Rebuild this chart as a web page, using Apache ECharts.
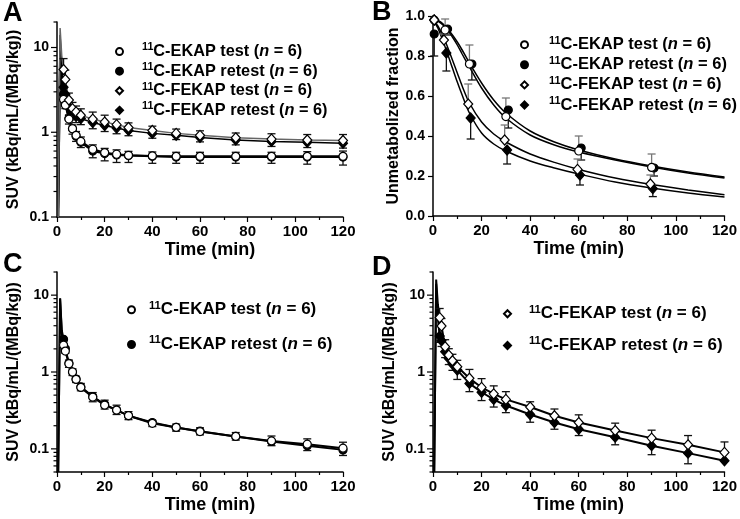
<!DOCTYPE html>
<html>
<head>
<meta charset="utf-8">
<script src="https://cdn.jsdelivr.net/npm/echarts@6/dist/echarts.min.js"></script>
<style>
  html, body { margin: 0; padding: 0; background: #fff; }
  #main { width: 740px; height: 519px; }
</style>
</head>
<body>
<div id="main"></div>
<script>
// ---- data ----
// frame mid-times (min) for the SUV panels
const suvTime = [2.75, 3.5, 5, 6.5, 8, 10, 15, 20, 25, 30, 40, 50, 60, 75, 90, 105, 120];
// early input peak of the fitted curves (min)
const peakTime = [0.5, 1.3, 2.0];

// panel A
const aEkapTest = [2.44, 2.09, 1.43, 1.1, 0.92, 0.78, 0.63, 0.575, 0.55, 0.535, 0.525, 0.52, 0.52, 0.52, 0.52, 0.52, 0.52];
const aEkapTestSd = [0.3, 0.25, 0.15, 0.12, 0.1, 0.1, 0.08, 0.07, 0.07, 0.06, 0.06, 0.06, 0.06, 0.06, 0.06, 0.07, 0.08];
const aEkapRetest = [2.8, 2.2, 1.45, 1.1, 0.9, 0.76, 0.6, 0.56, 0.54, 0.53, 0.52, 0.51, 0.51, 0.51, 0.51, 0.51, 0.51];
const aEkapRetestSd = [0.4, 0.3, 0.2, 0.15, 0.12, 0.1, 0.1, 0.1, 0.1, 0.09, 0.09, 0.08, 0.08, 0.08, 0.08, 0.09, 0.1];
const aFekapTest = [5.5, 4.2, 2.4, 1.9, 1.74, 1.59, 1.43, 1.32, 1.23, 1.14, 1.05, 0.97, 0.92, 0.86, 0.83, 0.81, 0.8];
const aFekapTestSd = [1.9, 1.2, 0.5, 0.35, 0.3, 0.3, 0.3, 0.27, 0.2, 0.15, 0.13, 0.12, 0.12, 0.12, 0.13, 0.13, 0.14];
const aFekapRetest = [3.4, 2.8, 2.0, 1.7, 1.55, 1.45, 1.3, 1.2, 1.12, 1.05, 0.97, 0.92, 0.87, 0.81, 0.78, 0.76, 0.74];
const aFekapRetestSd = [0.8, 0.6, 0.4, 0.3, 0.25, 0.22, 0.2, 0.18, 0.16, 0.14, 0.12, 0.1, 0.1, 0.1, 0.1, 0.1, 0.09];
const aEkapTestPeak = [0.1, 9, 3.5];
const aEkapRetestPeak = [0.1, 10, 4];
const aFekapTestPeak = [0.1, 17, 8];
const aFekapRetestPeak = [0.1, 14, 5.5];

// panel B (unmetabolized fraction)
const bEkapTestTime = [0.5, 5, 15, 30, 60, 90];
const bEkapTest = [0.98, 0.93, 0.76, 0.497, 0.325, 0.243];
const bEkapTestSd = [0, 0.055, 0.095, 0.093, 0.075, 0.067];
const bEkapRetestTime = [0.5, 6, 16, 31, 61, 91];
const bEkapRetest = [0.91, 0.935, 0.76, 0.53, 0.34, 0.24];
const bEkapRetestSd = [0.11, 0.03, 0.08, 0.09, 0.06, 0.04];
const bFekapTestTime = [0.5, 4.5, 14.5, 29.5, 59.5, 89.5];
const bFekapTest = [0.98, 0.88, 0.56, 0.38, 0.233, 0.16];
const bFekapTestSd = [0, 0.03, 0.1, 0.075, 0.052, 0.045];
const bFekapRetestTime = [0.5, 5.5, 15.5, 30.5, 60.5, 90.5];
const bFekapRetest = [0.98, 0.815, 0.49, 0.33, 0.205, 0.137];
const bFekapRetestSd = [0, 0.09, 0.105, 0.07, 0.05, 0.04];
// fitted curves of panel B
const bCurveTime = [0, 2, 5, 8, 10, 12, 15, 20, 25, 30, 40, 50, 60, 75, 90, 105, 120];
const bEkapTestCurve = [0.98, 0.975, 0.945, 0.895, 0.855, 0.81, 0.745, 0.64, 0.555, 0.49, 0.405, 0.355, 0.32, 0.28, 0.245, 0.215, 0.19];
const bEkapRetestCurve = [0.98, 0.978, 0.95, 0.905, 0.87, 0.83, 0.765, 0.665, 0.58, 0.515, 0.425, 0.37, 0.33, 0.285, 0.25, 0.22, 0.195];
const bFekapTestCurve = [0.98, 0.95, 0.875, 0.78, 0.715, 0.65, 0.565, 0.47, 0.41, 0.37, 0.31, 0.268, 0.233, 0.19, 0.157, 0.13, 0.106];
const bFekapRetestCurve = [0.98, 0.94, 0.845, 0.74, 0.67, 0.605, 0.515, 0.415, 0.36, 0.325, 0.275, 0.24, 0.21, 0.17, 0.14, 0.115, 0.095];

// panel C
const cEkapTest = [2.24, 1.87, 1.28, 1.0, 0.8, 0.63, 0.47, 0.37, 0.32, 0.27, 0.215, 0.19, 0.168, 0.145, 0.127, 0.115, 0.102];
const cEkapTestSd = [0.3, 0.25, 0.15, 0.1, 0.08, 0.08, 0.07, 0.06, 0.05, 0.035, 0.02, 0.02, 0.02, 0.018, 0.02, 0.02, 0.02];
const cEkapRetest = [2.66, 2.0, 1.3, 1.0, 0.81, 0.64, 0.48, 0.38, 0.32, 0.27, 0.22, 0.19, 0.17, 0.145, 0.125, 0.11, 0.097];
const cEkapRetestSd = [0.3, 0.25, 0.15, 0.1, 0.08, 0.07, 0.07, 0.05, 0.04, 0.03, 0.025, 0.02, 0.018, 0.015, 0.015, 0.015, 0.015];
const cEkapTestPeak = [0.05, 9, 3.2];
const cEkapRetestPeak = [0.05, 9.1, 3.5];

// panel D
const dFekapTest = [5.1, 3.96, 2.13, 1.66, 1.4, 1.17, 0.83, 0.63, 0.52, 0.44, 0.35, 0.27, 0.22, 0.173, 0.138, 0.113, 0.09];
const dFekapTestSd = [1.6, 1.0, 0.5, 0.35, 0.3, 0.25, 0.25, 0.19, 0.14, 0.115, 0.06, 0.06, 0.057, 0.043, 0.037, 0.036, 0.033];
const dFekapRetest = [2.93, 2.55, 1.84, 1.5, 1.27, 1.06, 0.71, 0.545, 0.44, 0.366, 0.28, 0.22, 0.18, 0.142, 0.11, 0.088, 0.07];
const dFekapRetestSd = [0.5, 0.4, 0.3, 0.25, 0.22, 0.26, 0.155, 0.12, 0.09, 0.07, 0.058, 0.04, 0.031, 0.029, 0.026, 0.024, 0];
const dFekapTestPeak = [0.05, 16, 7.5];
const dFekapRetestPeak = [0.05, 14, 5];

// axis ticks
const timeTicks = [0, 20, 40, 60, 80, 100, 120];
const logTicks = [0.05, 0.06, 0.07, 0.08, 0.09, 0.1, 0.2, 0.3, 0.4, 0.5, 0.6, 0.7, 0.8, 0.9,
  1, 2, 3, 4, 5, 6, 7, 8, 9, 10, 20];
const fracTicks = [0, 0.2, 0.4, 0.6, 0.8, 1.0];

// ---- chart ----
const FONT = 'Liberation Sans';
const chart = echarts.init(document.getElementById('main'));

const markers = {
  'EKAP test': { symbol: 'circle', size: 8, fill: '#fff', z: 5 },
  'EKAP retest': { symbol: 'circle', size: 8, fill: '#000', z: 4 },
  'FEKAP test': { symbol: 'diamond', size: [9, 10], fill: '#fff', z: 5 },
  'FEKAP retest': { symbol: 'diamond', size: [9, 10], fill: '#000', z: 4 }
};

const zip = (xs, ys) => xs.map((x, i) => [x, ys[i]]);
const zip3 = (xs, ys, es) => xs.map((x, i) => [x, ys[i], es[i]]);

function errorBars (dir, color) {
  return function (params, api) {
    const e = api.value(2);
    if (!e) return null;
    const x = api.value(0);
    const y = api.value(1);
    const p0 = api.coord([x, y]);
    const p1 = api.coord([x, y + dir * e]);
    const style = { stroke: color, lineWidth: 1.3 };
    return {
      type: 'group',
      children: [
        { type: 'line', shape: { x1: p0[0], y1: p0[1], x2: p1[0], y2: p1[1] }, style: style },
        { type: 'line', shape: { x1: p1[0] - 4, y1: p1[1], x2: p1[0] + 4, y2: p1[1] }, style: style }
      ]
    };
  };
}

const series = [];

function addGroup (idx, name, times, vals, sds, curve, lineColor, lineWidth, smooth, barColor) {
  const m = markers[name];
  series.push({
    type: 'line', xAxisIndex: idx, yAxisIndex: idx, data: curve, showSymbol: false,
    smooth: smooth, silent: true, z: 2,
    lineStyle: { color: lineColor, width: lineWidth }
  });
  series.push({
    type: 'custom', xAxisIndex: idx, yAxisIndex: idx, z: 3, silent: true,
    renderItem: errorBars(name.indexOf('retest') >= 0 ? -1 : 1, barColor || '#111'),
    encode: { x: 0, y: 1 },
    data: zip3(times, vals, sds)
  });
  series.push({
    type: 'scatter', name: name, xAxisIndex: idx, yAxisIndex: idx, z: m.z,
    symbol: m.symbol, symbolSize: m.size,
    itemStyle: { color: m.fill, borderColor: '#000', borderWidth: 1.2, opacity: 1 },
    data: zip(times, vals)
  });
}

function suvCurve (peak, vals) {
  return zip(peakTime, peak).concat(zip(suvTime, vals));
}

// A
addGroup(0, 'EKAP retest', suvTime, aEkapRetest, aEkapRetestSd, suvCurve(aEkapRetestPeak, aEkapRetest), '#000', 2, false);
addGroup(0, 'EKAP test', suvTime, aEkapTest, aEkapTestSd, suvCurve(aEkapTestPeak, aEkapTest), '#000', 2, false);
addGroup(0, 'FEKAP retest', suvTime, aFekapRetest, aFekapRetestSd, suvCurve(aFekapRetestPeak, aFekapRetest), '#000', 1.5, false);
addGroup(0, 'FEKAP test', suvTime, aFekapTest, aFekapTestSd, suvCurve(aFekapTestPeak, aFekapTest), '#666', 1.5, false);
// B
addGroup(1, 'EKAP retest', bEkapRetestTime, bEkapRetest, bEkapRetestSd, zip(bCurveTime, bEkapRetestCurve), '#000', 1.5, 0.3);
addGroup(1, 'EKAP test', bEkapTestTime, bEkapTest, bEkapTestSd, zip(bCurveTime, bEkapTestCurve), '#000', 1.5, 0.3, '#777');
addGroup(1, 'FEKAP retest', bFekapRetestTime, bFekapRetest, bFekapRetestSd, zip(bCurveTime, bFekapRetestCurve), '#000', 1.5, 0.3);
addGroup(1, 'FEKAP test', bFekapTestTime, bFekapTest, bFekapTestSd, zip(bCurveTime, bFekapTestCurve), '#000', 1.5, 0.3, '#777');
// C
addGroup(2, 'EKAP retest', suvTime, cEkapRetest, cEkapRetestSd, suvCurve(cEkapRetestPeak, cEkapRetest), '#000', 2, false);
addGroup(2, 'EKAP test', suvTime, cEkapTest, cEkapTestSd, suvCurve(cEkapTestPeak, cEkapTest), '#000', 2, false);
// D
addGroup(3, 'FEKAP retest', suvTime, dFekapRetest, dFekapRetestSd, suvCurve(dFekapRetestPeak, dFekapRetest), '#000', 2, false);
addGroup(3, 'FEKAP test', suvTime, dFekapTest, dFekapTestSd, suvCurve(dFekapTestPeak, dFekapTest), '#000', 2, false);

// log-axis ticks (major + 2..9 minor), drawn on the y axis of A, C, D
[[0, 0.1], [2, 0.05], [3, 0.05]].forEach(([idx, lo]) => {
  series.push({
    type: 'custom', xAxisIndex: idx, yAxisIndex: idx, silent: true, clip: false, z: 6,
    encode: { x: 0, y: 1 },
    data: logTicks.filter(v => v >= lo - 1e-9).map(v => [0, v]),
    renderItem: (params, api) => {
      const v = api.value(1);
      const lg = Math.log10(v);
      const len = Math.abs(lg - Math.round(lg)) < 1e-6 ? 6 : 3.5;
      const p = api.coord([0, v]);
      return { type: 'line', shape: { x1: p[0] - len, y1: p[1], x2: p[0], y2: p[1] }, style: { stroke: '#000', lineWidth: 1.2 } };
    }
  });
});

const grids = [
  { left: 57, top: 22, width: 286, height: 195 },
  { left: 433, top: 16, width: 294, height: 200 },
  { left: 57, top: 272, width: 286, height: 200 },
  { left: 433, top: 272, width: 294, height: 200 }
];

const axisLineStyle = { lineStyle: { color: '#000', width: 1.5 } };
const labelStyle = { color: '#000', fontFamily: FONT, fontWeight: 'bold', fontSize: 15 };

const xAxes = grids.map((g, i) => ({
  type: 'value', gridIndex: i, min: timeTicks[0], max: timeTicks[timeTicks.length - 1], interval: 20,
  name: 'Time (min)', nameLocation: 'middle', nameGap: 24,
  nameTextStyle: {
    color: '#000', fontFamily: FONT, fontWeight: 'bold', fontSize: 18,
    padding: i % 2 === 0 ? [0, 0, 0, 20] : 0
  },
  axisLine: axisLineStyle,
  axisTick: { show: true, length: 5, lineStyle: { color: '#000', width: 1.2 } },
  minorTick: { show: true, splitNumber: 2, length: 3, lineStyle: { color: '#000', width: 1.2 } },
  axisLabel: Object.assign({ margin: 7 }, labelStyle),
  splitLine: { show: false }
}));

const logLabel = v => {
  const lg = Math.log10(v);
  if (Math.abs(lg - Math.round(lg)) > 1e-6) return '';
  return String(+(+v).toPrecision(6));
};

const yName = { color: '#000', fontFamily: FONT, fontWeight: 'bold', fontSize: 16 };
const yAxes = [
  { type: 'log', gridIndex: 0, logBase: 10, min: 0.1, max: 20 },
  { type: 'value', gridIndex: 1, min: fracTicks[0], max: fracTicks[fracTicks.length - 1], interval: 0.2 },
  { type: 'log', gridIndex: 2, logBase: 10, min: 0.05, max: 20 },
  { type: 'log', gridIndex: 3, logBase: 10, min: 0.05, max: 20 }
].map((a, i) => Object.assign(a, {
  name: i === 1 ? 'Unmetabolized fraction' : 'SUV (kBq/mL/(MBq/kg))',
  nameLocation: 'middle', nameRotate: 90, nameGap: i === 1 ? 31 : 35,
  nameTextStyle: yName,
  axisLine: axisLineStyle,
  axisTick: { show: a.type !== 'log', length: 5, lineStyle: { color: '#000', width: 1.2 } },
  axisLabel: Object.assign({
    margin: 8,
    formatter: a.type === 'log' ? logLabel : v => v.toFixed(1)
  }, labelStyle, { fontSize: 14 }),
  splitLine: { show: false }
}));

function legend (left, top, names, gap, space, size) {
  const rich = {
    g: { width: space },
    s: { fontFamily: FONT, fontWeight: 'bold', fontSize: size * 0.66, color: '#000', padding: [0, 0, size * 0.5, 0] },
    b: { fontFamily: FONT, fontWeight: 'bold', fontSize: size, color: '#000' },
    i: { fontFamily: FONT, fontWeight: 'bold', fontStyle: 'italic', fontSize: size, color: '#000' }
  };
  return {
    left: left, top: top, orient: 'vertical', itemGap: gap,
    itemWidth: 7, itemHeight: 7, selectedMode: false,
    data: names,
    formatter: n => '{g|}{s|11}{b|C-' + n + ' (}{i|n}{b| = 6)}',
    textStyle: { rich: rich }
  };
}
const all4 = ['EKAP test', 'EKAP retest', 'FEKAP test', 'FEKAP retest'];

const letter = (t, x, y) => ({
  type: 'text', left: x, top: y,
  style: { text: t, fontFamily: FONT, fontWeight: 'bold', fontSize: 27, fill: '#000' }
});

chart.setOption({
  animation: false,
  backgroundColor: '#fff',
  grid: grids,
  xAxis: xAxes,
  yAxis: yAxes,
  legend: [
    legend(110, 37, all4, 2, 14, 16.3),
    legend(515, 30, all4, 2, 16, 16.5),
    legend(122, 295, ['EKAP test', 'EKAP retest'], 16.5, 9, 17),
    legend(498, 299, ['FEKAP test', 'FEKAP retest'], 13.5, 13, 17)
  ],
  graphic: [
    letter('A', 3, 0),
    letter('B', 372, -1),
    letter('C', 3, 251),
    letter('D', 372, 254)
  ],
  series: series
});
</script>
</body>
</html>
